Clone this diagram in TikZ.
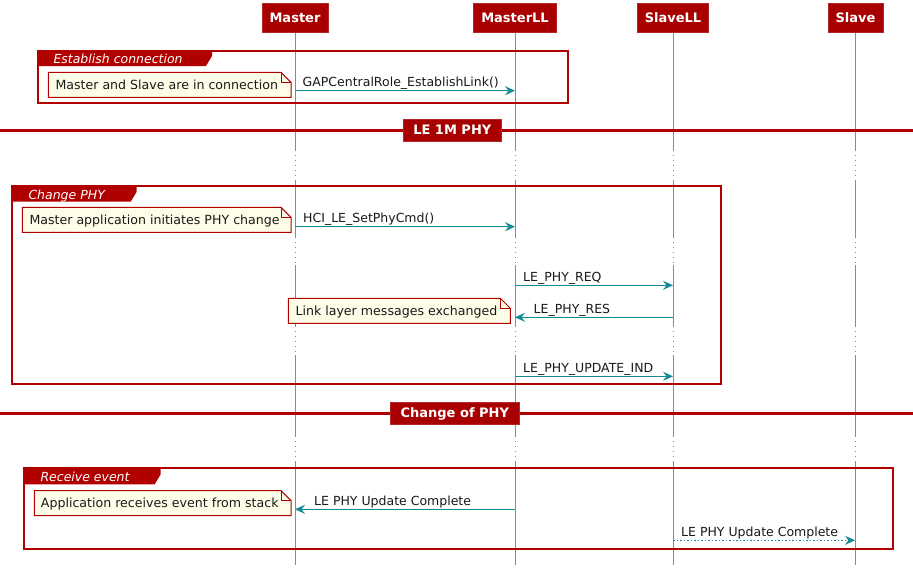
\documentclass[tikz,border=0pt]{standalone}
\usepackage{fontspec}
\setmainfont{DejaVu Sans}[BoldFont={DejaVu Sans Bold},ItalicFont={DejaVu Sans Oblique}]
\usetikzlibrary{arrows.meta}
\definecolor{hdrred}{HTML}{A80000}
\definecolor{grpred}{HTML}{B00000}
\definecolor{msgteal}{HTML}{138A94}
\definecolor{notefill}{HTML}{FEFEE8}
\definecolor{lifegray}{HTML}{8A8A8A}
\begin{document}
\begin{tikzpicture}[x=1pt,y=-1pt,
  lifeline/.style={draw=lifegray, line width=1pt},
  delayline/.style={draw=lifegray, line width=1pt, dash pattern=on 1pt off 4pt},
  hdr/.style={fill=hdrred, draw=hdrred!85!white, line width=0.8pt, text=white, font=\fontsize{13}{15}\selectfont\bfseries, minimum height=29pt, inner xsep=7.5pt, inner ysep=0pt, text height=9.5pt, text depth=0pt},
  grp/.style={draw=grpred, line width=2pt},
  grptab/.style={fill=grpred},
  grptitle/.style={text=white, font=\fontsize{12.5}{14}\selectfont\itshape, anchor=base west, inner sep=0pt},
  notebox/.style={fill=notefill, draw=grpred, line width=1pt, line join=miter},
  notetext/.style={font=\fontsize{12.6}{14}\selectfont, anchor=base west, inner sep=0pt, text=black!90},
  msg/.style={draw=msgteal, line width=1.3pt, -{Stealth[length=10pt,width=9pt,inset=3.5pt]}},
  msgdot/.style={msg, dash pattern=on 1.5pt off 2pt},
  msglabel/.style={font=\fontsize{12.5}{14}\selectfont, anchor=base west, inner sep=0pt, text=black!90},
  divline/.style={draw=grpred, line width=3pt},
  divbox/.style={fill=hdrred, draw=hdrred!85!white, line width=0.8pt, text=white, font=\fontsize{13}{15}\selectfont\bfseries, minimum height=22pt, inner xsep=10pt, inner ysep=0pt, text height=9.5pt, text depth=0pt}
]
\useasboundingbox[fill=white] (0,0) rectangle (913,576);

% lifelines
\foreach \lx in {295,515,673,855}{
  \draw[lifeline] (\lx,32.3) -- (\lx,150);
  \draw[delayline] (\lx,150) -- (\lx,181);
  \draw[lifeline] (\lx,181) -- (\lx,237);
  \draw[delayline] (\lx,237) -- (\lx,265);
  \draw[lifeline] (\lx,265) -- (\lx,326);
  \draw[delayline] (\lx,326) -- (\lx,355);
  \draw[lifeline] (\lx,355) -- (\lx,436);
  \draw[delayline] (\lx,436) -- (\lx,462);
  \draw[lifeline] (\lx,462) -- (\lx,565);
}

% group 1: Establish connection
\draw[grp] (38,50.5) rectangle (567.5,102.5);
\fill[grptab] (38,50.5) -- (212,50.5) -- (212,56) -- (206,66) -- (38,66) -- cycle;
\node[grptitle] (g1t) at (53.3,63.3) {Establish connection};

% group 2: Change PHY
\draw[grp] (12,186.3) rectangle (720.5,384.3);
\fill[grptab] (12,186.3) -- (136.7,186.3) -- (136.7,191.7) -- (130.7,201.7) -- (12,201.7) -- cycle;
\node[grptitle] (g2t) at (28.3,199) {Change PHY};

% group 3: Receive event
\draw[grp] (24,468.3) rectangle (893.3,549);
\fill[grptab] (24,468.3) -- (160.7,468.3) -- (160.7,474.3) -- (154.7,484.3) -- (24,484.3) -- cycle;
\node[grptitle] (g3t) at (40.3,481.7) {Receive event};

% dividers
\draw[divline] (0,130.7) -- (913,130.7);
\node[divbox] (d1) at (452.3,130) {LE 1M PHY};
\draw[divline] (0,413.3) -- (913,413.3);
\node[divbox] (d2) at (454.8,413) {Change of PHY};

% notes
\draw[notebox] (48.3,72.3) -- (281,72.3) -- (291,82.3) -- (291,97.3) -- (48.3,97.3) -- cycle;
\draw[grpred, line width=1pt] (281,72.3) -- (281,82.3) -- (291,82.3);
\node[notetext] (n1) at (55.3,89.3) {Master and Slave are in connection};

\draw[notebox] (22.3,207.3) -- (281,207.3) -- (291,217.3) -- (291,232.3) -- (22.3,232.3) -- cycle;
\draw[grpred, line width=1pt] (281,207.3) -- (281,217.3) -- (291,217.3);
\node[notetext] (n2) at (29.3,224.3) {Master application initiates PHY change};

\draw[notebox] (288.3,298.3) -- (500.3,298.3) -- (510.3,308.3) -- (510.3,323.3) -- (288.3,323.3) -- cycle;
\draw[grpred, line width=1pt] (500.3,298.3) -- (500.3,308.3) -- (510.3,308.3);
\node[notetext] (n3) at (295.3,315.3) {Link layer messages exchanged};

\draw[notebox] (34.3,490.7) -- (281,490.7) -- (291,500.7) -- (291,515.7) -- (34.3,515.7) -- cycle;
\draw[grpred, line width=1pt] (281,490.7) -- (281,500.7) -- (291,500.7);
\node[notetext] (n4) at (40.7,507.7) {Application receives event from stack};

% message endpoints
\coordinate (a1) at (295,90.7);   \coordinate (b1) at (515,90.7);
\coordinate (a2) at (295,226.7);  \coordinate (b2) at (515,226.7);
\coordinate (a3) at (515,285.3);  \coordinate (b3) at (673,285.3);
\coordinate (a4) at (673,317.3);  \coordinate (b4) at (515,317.3);
\coordinate (a5) at (515,376.3);  \coordinate (b5) at (673,376.3);
\coordinate (a6) at (515,509.3);  \coordinate (b6) at (295,509.3);
\coordinate (a7) at (673,540.3);  \coordinate (b7) at (855,540.3);

\draw[msg] (a1) -- (b1);
\node[msglabel] (l1) at (302.5,86.5) {GAPCentralRole\_EstablishLink()};
\draw[msg] (a2) -- (b2);
\node[msglabel] (l2) at (303,222.5) {HCI\_LE\_SetPhyCmd()};
\draw[msg] (a3) -- (b3);
\node[msglabel] (l3) at (523,281.1) {LE\_PHY\_REQ};
\draw[msg] (a4) -- (b4);
\node[msglabel] (l4) at (533.5,313.1) {LE\_PHY\_RES};
\draw[msg] (a5) -- (b5);
\node[msglabel] (l5) at (523,372.1) {LE\_PHY\_UPDATE\_IND};
\draw[msg] (a6) -- (b6);
\node[msglabel] (l6) at (314,505.1) {LE PHY Update Complete};
\draw[msgdot] (a7) -- (b7);
\node[msglabel] (l7) at (681,536.1) {LE PHY Update Complete};

% participant headers
\node[hdr] (master) at (295,17.8) {Master};
\node[hdr] (masterll) at (515,17.8) {MasterLL};
\node[hdr] (slavell) at (673,17.8) {SlaveLL};
\node[hdr] (slave) at (855.5,17.8) {Slave};
\end{tikzpicture}
\end{document}
